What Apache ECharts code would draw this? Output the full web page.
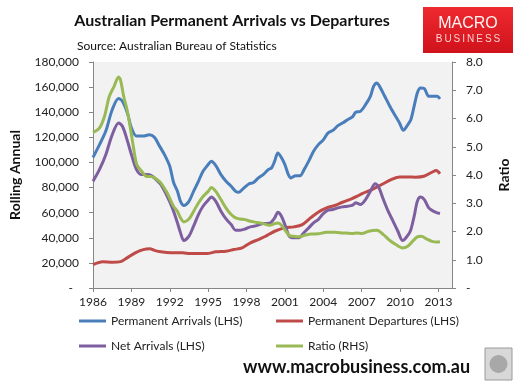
<!DOCTYPE html>
<html>
<head>
<meta charset="utf-8">
<script src="https://cdn.jsdelivr.net/npm/echarts@6/dist/echarts.min.js"></script>
<style>
  html, body { margin: 0; padding: 0; background: #fff; }
  #chart { width: 519px; height: 387px; }
</style>
</head>
<body>
<div id="chart"></div>
<script>
// ---- Data ----
const xTickLabels = [1986, 1989, 1992, 1995, 1998, 2001, 2004, 2007, 2010, 2013];

const arrivals = [
  [1986.0,104000],[1986.5,114000],[1987.0,125000],[1987.5,142000],[1988.0,151000],[1988.3,148700],
  [1988.7,139000],[1989.0,127500],[1989.4,121000],[1989.9,121000],[1990.4,122000],[1990.8,120000],
  [1991.2,113000],[1991.6,106000],[1992.0,97000],[1992.3,84000],[1992.6,77000],[1992.84,69000],
  [1993.1,65700],[1993.5,69000],[1993.86,77000],[1994.24,85000],[1994.6,93000],[1995.0,98300],
  [1995.25,101000],[1995.6,97500],[1996.0,90300],[1996.4,85000],[1996.8,81000],[1997.15,77000],
  [1997.4,76300],[1997.8,79700],[1998.2,83000],[1998.55,84000],[1998.93,87700],[1999.3,90300],
  [1999.7,94300],[1999.95,95600],[2000.2,101000],[2000.45,107600],[2000.7,104400],[2001.0,98300],
  [2001.27,90300],[2001.47,87700],[2001.85,89500],[2002.18,89500],[2002.5,94300],[2002.86,101000],
  [2003.24,109000],[2003.6,114000],[2004.0,118000],[2004.38,123500],[2004.76,125600],[2005.14,129300],
  [2005.5,131400],[2005.9,134000],[2006.3,136500],[2006.53,140000],[2006.9,140700],[2007.3,146000],
  [2007.68,152700],[2007.93,160600],[2008.18,163300],[2008.43,160000],[2008.8,152700],[2009.2,144800],
  [2009.58,138000],[2009.96,131400],[2010.26,125600],[2010.6,130000],[2010.84,134000],[2011.1,144800],
  [2011.35,155400],[2011.6,159300],[2011.9,158800],[2012.24,152700],[2012.6,152700],[2012.9,152700],
  [2013.12,150600]
];

const departures = [
  [1986.0,18700],[1986.76,21000],[1987.5,20600],[1988.15,21000],[1988.66,24000],[1989.3,28000],
  [1989.93,30600],[1990.44,31200],[1990.8,30000],[1991.3,28800],[1992.1,28000],[1993.0,28000],
  [1993.6,27500],[1994.9,27500],[1995.6,28800],[1996.4,29300],[1997.0,30600],[1997.66,32000],
  [1998.3,36000],[1998.93,38600],[1999.4,40800],[1999.8,43000],[2000.2,45200],[2000.96,47900],
  [2001.7,48700],[2002.36,50500],[2003.0,55800],[2003.6,60400],[2004.26,63800],[2004.9,65700],
  [2005.5,68300],[2006.2,71000],[2006.66,73100],[2007.04,75200],[2007.8,78400],[2008.56,82400],
  [2009.3,86300],[2009.96,88500],[2010.6,88500],[2011.22,88300],[2011.86,89000],[2012.5,92200],
  [2012.82,93500],[2013.12,91000]
];

const netArrivals = [
  [1986.0,85000],[1986.5,94300],[1987.0,106200],[1987.5,122000],[1988.0,131400],[1988.3,128800],
  [1988.66,118200],[1989.04,105000],[1989.4,94300],[1989.8,90300],[1990.2,90300],[1990.56,89500],
  [1990.94,86300],[1991.3,82400],[1991.8,73000],[1992.2,63800],[1992.6,51900],[1992.84,44000],
  [1993.1,37800],[1993.5,41300],[1993.86,49200],[1994.24,58500],[1994.6,65100],[1995.0,69900],
  [1995.25,72500],[1995.6,69000],[1996.0,61200],[1996.4,55000],[1996.8,50500],[1997.15,46000],
  [1997.5,46000],[1997.9,47000],[1998.3,48700],[1998.8,49700],[1999.3,51300],[1999.8,51600],
  [2000.2,55800],[2000.45,60400],[2000.7,57700],[2001.0,50500],[2001.34,41300],[2001.7,40000],
  [2002.1,40000],[2002.48,44000],[2002.86,47900],[2003.24,51900],[2003.6,54500],[2004.0,59300],
  [2004.38,62000],[2004.76,62500],[2005.14,63800],[2005.5,64600],[2005.9,65100],[2006.3,66000],
  [2006.53,67800],[2006.9,66500],[2007.3,70400],[2007.68,77000],[2008.05,83000],[2008.3,81000],
  [2008.7,70400],[2009.07,61200],[2009.45,53300],[2009.83,45200],[2010.2,37800],[2010.46,40000],
  [2010.8,45200],[2011.1,57100],[2011.35,69000],[2011.6,72500],[2011.9,70400],[2012.24,63800],
  [2012.6,61200],[2012.9,59900],[2013.12,59300]
];

const ratio = [
  [1986.0,5.51],[1986.5,5.66],[1986.9,6.08],[1987.27,6.78],[1987.65,7.14],[1988.0,7.47],
  [1988.15,7.37],[1988.4,6.78],[1988.66,6.31],[1988.9,5.72],[1989.17,4.96],[1989.42,4.37],
  [1989.8,4.13],[1990.2,3.95],[1990.56,3.95],[1990.94,3.86],[1991.3,3.72],[1991.8,3.36],
  [1992.3,2.89],[1992.6,2.71],[1992.84,2.48],[1993.1,2.34],[1993.5,2.44],[1993.86,2.71],
  [1994.24,3.01],[1994.6,3.24],[1995.0,3.42],[1995.25,3.56],[1995.6,3.42],[1996.0,3.13],
  [1996.4,2.83],[1996.8,2.60],[1997.15,2.48],[1997.5,2.44],[1997.9,2.42],[1998.3,2.36],
  [1998.8,2.32],[1999.3,2.28],[1999.8,2.22],[2000.2,2.28],[2000.45,2.30],[2000.7,2.24],
  [2001.0,2.06],[2001.34,1.86],[2001.7,1.83],[2002.1,1.81],[2002.48,1.86],[2003.0,1.91],
  [2003.6,1.92],[2004.26,1.97],[2004.9,1.97],[2005.5,1.95],[2006.2,1.93],[2006.66,1.95],
  [2007.0,1.93],[2007.55,2.01],[2008.18,2.04],[2008.7,1.89],[2009.2,1.68],[2009.7,1.53],
  [2010.2,1.42],[2010.6,1.48],[2010.97,1.65],[2011.35,1.81],[2011.65,1.83],[2012.1,1.73],
  [2012.5,1.65],[2012.87,1.63],[2013.12,1.64]
];

const seriesNames = ['Permanent Arrivals (LHS)', 'Permanent Departures (LHS)', 'Net Arrivals (LHS)', 'Ratio (RHS)'];
const seriesColors = ['#4a7ebb', '#be4b48', '#7d5fa0', '#98b954'];

// ---- Chart ----
const FONT = 'Lato, "Liberation Sans", sans-serif';
const AXIS_COLOR = '#868686';
const chart = echarts.init(document.getElementById('chart'), null, { renderer: 'canvas' });

function fmtThousands(v) {
  if (v === 0) return '-  ';
  return v.toString().replace(/\B(?=(\d{3})+(?!\d))/g, ',');
}

const lineSeries = [arrivals, departures, netArrivals, ratio].map((d, i) => ({
  name: seriesNames[i],
  type: 'line',
  yAxisIndex: i === 3 ? 1 : 0,
  data: d,
  showSymbol: false,
  symbol: 'none',
  smooth: 0.3,
  lineStyle: { color: seriesColors[i], width: 3 },
  itemStyle: { color: seriesColors[i] },
  emphasis: { disabled: true },
  z: 2 + i
}));

const legendPos = [[79, 315], [276, 315], [79, 340], [276, 340]];
const legends = seriesNames.map((n, i) => ({
  data: [n],
  left: legendPos[i][0],
  top: legendPos[i][1],
  padding: 0,
  icon: 'rect',
  itemWidth: 27,
  itemHeight: 3,
  itemGap: 0,
  selectedMode: false,
  textStyle: { fontFamily: FONT, fontSize: 12, color: '#222' }
}));

chart.setOption({
  animation: false,
  backgroundColor: '#ffffff',
  grid: {
    left: 83, right: 67, top: 62, bottom: 99,
    show: true, backgroundColor: '#f2f2f2', borderWidth: 0
  },
  legend: legends,
  xAxis: {
    type: 'value',
    min: 1986, max: 2014.06, interval: 3,
    axisLine: { show: true, lineStyle: { color: AXIS_COLOR, width: 1 } },
    axisTick: { show: true, length: 4, lineStyle: { color: AXIS_COLOR } },
    axisLabel: {
      showMaxLabel: false,
      margin: 8,
      fontFamily: FONT, fontSize: 12, color: '#222',
      formatter: v => (xTickLabels.indexOf(v) >= 0 ? String(v) : '')
    },
    splitLine: { show: false }
  },
  yAxis: [
    {
      type: 'value', min: 0, max: 180000, interval: 20000, position: 'left',
      name: 'Rolling Annual', nameLocation: 'middle', nameGap: 71, nameRotate: 90,
      nameTextStyle: { fontFamily: FONT, fontSize: 14, fontWeight: 'bold', color: '#111' },
      axisLine: { show: true, lineStyle: { color: AXIS_COLOR, width: 1 } },
      axisTick: { show: true, length: 4, lineStyle: { color: AXIS_COLOR } },
      axisLabel: { margin: 14, fontFamily: FONT, fontSize: 12, color: '#222', formatter: fmtThousands },
      splitLine: { show: false }
    },
    {
      type: 'value', min: 0, max: 8, interval: 1, position: 'right',
      name: 'Ratio', nameLocation: 'middle', nameGap: 45, nameRotate: 90,
      nameTextStyle: { fontFamily: FONT, fontSize: 14, fontWeight: 'bold', color: '#111' },
      axisLine: { show: true, lineStyle: { color: AXIS_COLOR, width: 1 } },
      axisTick: { show: true, length: 4, lineStyle: { color: AXIS_COLOR } },
      axisLabel: { margin: 14, fontFamily: FONT, fontSize: 12, color: '#222',
        formatter: v => (v === 0 ? '-' : v.toFixed(1)) },
      splitLine: { show: false }
    }
  ],
  graphic: [
    { type: 'text', x: 232, y: 21,
      style: { text: 'Australian Permanent Arrivals vs Departures', fontFamily: FONT, fontSize: 16,
        fontWeight: 'bold', fill: '#111', textAlign: 'center', align: 'center',
        textVerticalAlign: 'middle', verticalAlign: 'middle' } },
    { type: 'text', x: 77, y: 46,
      style: { text: 'Source: Australian Bureau of Statistics', fontFamily: FONT, fontSize: 12,
        fill: '#111', textAlign: 'left', align: 'left',
        textVerticalAlign: 'middle', verticalAlign: 'middle' } },
    { type: 'rect', shape: { x: 423, y: 7, width: 90, height: 46 },
      style: { fill: new echarts.graphic.LinearGradient(0, 0, 0, 1, [
        { offset: 0, color: '#ee2a2f' }, { offset: 1, color: '#d0121b' }]) } },
    { type: 'text', x: 468, y: 24,
      style: { text: 'MACRO', fontFamily: '"Liberation Sans", Arial, sans-serif', fontSize: 16,
        fill: '#fff4f4', textAlign: 'center', align: 'center',
        textVerticalAlign: 'middle', verticalAlign: 'middle' } },
    { type: 'text', x: 468, y: 39,
      style: { text: 'B\u2009U\u2009S\u2009I\u2009N\u2009E\u2009S\u2009S', fontFamily: '"Liberation Sans", Arial, sans-serif', fontSize: 10,
        fill: '#ffd0d0', textAlign: 'center', align: 'center',
        textVerticalAlign: 'middle', verticalAlign: 'middle' } },
    { type: 'text', x: 243, y: 367,
      style: { text: 'www.macrobusiness.com.au', fontFamily: FONT, fontSize: 18,
        fontWeight: 'bold', fill: '#111', textAlign: 'left', align: 'left',
        textVerticalAlign: 'middle', verticalAlign: 'middle' } },
    { type: 'rect', shape: { x: 485, y: 348, width: 27, height: 32 },
      style: { fill: '#d8d8d8', stroke: '#9a9a9a', lineWidth: 1 } },
    { type: 'circle', shape: { cx: 498.5, cy: 364, r: 9 },
      style: { fill: '#a8a8a8' } }
  ],
  series: lineSeries
});
</script>
</body>
</html>
